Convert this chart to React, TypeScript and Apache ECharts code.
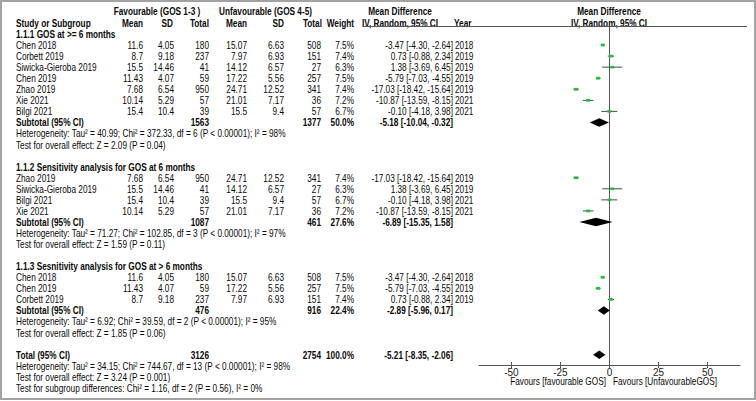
import React, { useEffect, useRef } from "react";
import * as echarts from "echarts";

// ---------- data ----------
const studies = ["Chen 2018", "Corbett 2019", "Siwicka-Gieroba 2019", "Chen 2019", "Zhao 2019", "Xie 2021", "Bilgi 2021"];
const favMean = [11.6, 8.7, 15.5, 11.43, 7.68, 10.14, 15.4];
const favSD = [4.05, 9.18, 14.46, 4.07, 6.54, 5.29, 10.4];
const favN = [180, 237, 41, 59, 950, 57, 39];
const unfMean = [15.07, 7.97, 14.12, 17.22, 24.71, 21.01, 15.5];
const unfSD = [6.63, 6.93, 6.57, 5.56, 12.52, 7.17, 9.4];
const unfN = [508, 151, 27, 257, 341, 36, 57];
const md = [-3.47, 0.73, 1.38, -5.79, -17.03, -10.87, -0.1];
const mdLo = [-4.3, -0.88, -3.69, -7.03, -18.42, -13.59, -4.18];
const mdHi = [-2.64, 2.34, 6.45, -4.55, -15.64, -8.15, 3.98];
const years = [2018, 2019, 2019, 2019, 2019, 2021, 2021];

const groupTitles = [
  "1.1.1 GOS at >= 6 months",
  "1.1.2 Sensitivity analysis for GOS at 6 months",
  "1.1.3 Sesnitivity analysis for GOS at > 6 months",
];
const groupMembers = [[0, 1, 2, 3, 4, 5, 6], [4, 2, 6, 5], [0, 3, 1]];
const groupWeights = [[7.5, 7.4, 6.3, 7.5, 7.4, 7.2, 6.7], [7.4, 6.3, 6.7, 7.2], [7.5, 7.5, 7.4]];
const subFavN = [1563, 1087, 476];
const subUnfN = [1377, 461, 916];
const subWeight = [50.0, 27.6, 22.4];
const subMD = [-5.18, -6.89, -2.89];
const subLo = [-10.04, -15.35, -5.96];
const subHi = [-0.32, 1.58, 0.17];
const subTau2 = [40.99, 71.27, 6.92];
const subChi2 = [372.33, 102.85, 39.59];
const subDf = [6, 3, 2];
const subI2 = [98, 97, 95];
const subZ = [2.09, 1.59, 1.85];
const subP = ["0.04", "0.11", "0.06"];

const totalFavN = 3126;
const totalUnfN = 2754;
const totalWeight = 100.0;
const totalMD = -5.21;
const totalLo = -8.35;
const totalHi = -2.06;
const totalTau2 = 34.15;
const totalChi2 = 744.67;
const totalDf = 13;
const totalI2 = 98;
const totalZ = 3.24;
const totalP = "0.001";
const subgroupChi2 = 1.16;
const subgroupDf = 2;
const subgroupP = "0.56";
const subgroupI2 = 0;

const axisTicks = [-50, -25, 0, 25, 50];
const favLeftLabel = "Favours [favourable GOS]";
const favRightLabel = "Favours [UnfavourableGOS]";

// ---------- layout ----------
const FONT = "Arial, 'Liberation Sans', Helvetica, sans-serif";
const FS = 11;
const SX = 0.75;
const TXT = "#0a0a0a";
const GRID = { left: 479, top: 26, width: 261, height: 339 };
const Y_MIN = -0.72;
const Y_MAX = 29.93;
const X_MIN = -66.5;
const X_MAX = 66.5;
const rowY = (r: number) => GRID.top + ((r - Y_MIN) / (Y_MAX - Y_MIN)) * GRID.height;

const COL = {
  name: 16,
  favMean: 143,
  favSD: 174,
  favN: 209,
  unfMean: 247,
  unfSD: 284,
  unfN: 321,
  weight: 354,
  ci: 453,
  year: 455,
};

function txt(x: number, y: number, s: string, align = "left", bold = false): any {
  return {
    type: "text",
    x,
    y,
    scaleX: SX,
    silent: true,
    style: {
      text: s,
      fill: TXT,
      fontSize: FS,
      fontFamily: FONT,
      fontWeight: bold ? "bold" : "normal",
      align,
      textAlign: align,
      verticalAlign: "middle",
      textVerticalAlign: "middle",
    },
  };
}

const ciText = (m: number, l: number, h: number) => `${m.toFixed(2)} [${l.toFixed(2)}, ${h.toFixed(2)}]`;
const hetText = (t: number, c: number, df: number, i2: number) =>
  `Heterogeneity: Tau\u00B2 = ${t.toFixed(2)}; Chi\u00B2 = ${c.toFixed(2)}, df = ${df} (P < 0.00001); I\u00B2 = ${i2}%`;
const testText = (z: number, p: string) => `Test for overall effect: Z = ${z.toFixed(2)} (P = ${p})`;

function buildAll() {
  const g: any[] = [];
  const forest: any[] = [];

  // frame
  g.push({
    type: "rect",
    silent: true,
    shape: { x: 1, y: 1, width: 754, height: 398 },
    style: { fill: "none", stroke: "#a3a3a3", lineWidth: 2 },
  });
  // header
  const h1 = 10.7;
  const h2 = 22.7;
  g.push(txt(157, h1, "Favourable (GOS 1-3 )", "center", true));
  g.push(txt(265.5, h1, "Unfavourable (GOS 4-5)", "center", true));
  g.push(txt(400, h1, "Mean Difference", "center", true));
  g.push(txt(609, h1, "Mean Difference", "center", true));
  g.push(txt(COL.name, h2, "Study or Subgroup", "left", true));
  g.push(txt(COL.favMean, h2, "Mean", "right", true));
  g.push(txt(COL.favSD - 1, h2, "SD", "right", true));
  g.push(txt(COL.favN, h2, "Total", "right", true));
  g.push(txt(COL.unfMean, h2, "Mean", "right", true));
  g.push(txt(COL.unfSD, h2, "SD", "right", true));
  g.push(txt(COL.unfN + 1, h2, "Total", "right", true));
  g.push(txt(COL.weight, h2, "Weight", "right", true));
  g.push(txt(400, h2, "IV, Random, 95% CI", "center", true));
  g.push(txt(COL.year - 1, h2, "Year", "left", true));
  g.push(txt(609, h2, "IV, Random, 95% CI", "center", true));
  g.push({
    type: "line",
    silent: true,
    shape: { x1: 364, y1: 26.5, x2: 747, y2: 26.5 },
    style: { stroke: "#555", lineWidth: 1 },
  });

  let r = 0;
  groupMembers.forEach((members, gi) => {
    g.push(txt(COL.name, rowY(r), groupTitles[gi], "left", true));
    r++;
    members.forEach((i, k) => {
      const y = rowY(r);
      g.push(txt(COL.name, y, studies[i]));
      g.push(txt(COL.favMean, y, String(favMean[i]), "right"));
      g.push(txt(COL.favSD, y, String(favSD[i]), "right"));
      g.push(txt(COL.favN, y, String(favN[i]), "right"));
      g.push(txt(COL.unfMean, y, String(unfMean[i]), "right"));
      g.push(txt(COL.unfSD, y, String(unfSD[i]), "right"));
      g.push(txt(COL.unfN, y, String(unfN[i]), "right"));
      g.push(txt(COL.weight, y, groupWeights[gi][k].toFixed(1) + "%", "right"));
      g.push(txt(COL.ci, y, ciText(md[i], mdLo[i], mdHi[i]), "right"));
      g.push(txt(COL.year, y, String(years[i])));
      forest.push([md[i], mdLo[i], mdHi[i], r, 0, groupWeights[gi][k]]);
      r++;
    });
    const ys = rowY(r);
    g.push(txt(COL.name, ys, "Subtotal (95% CI)", "left", true));
    g.push(txt(COL.favN, ys, String(subFavN[gi]), "right", true));
    g.push(txt(COL.unfN, ys, String(subUnfN[gi]), "right", true));
    g.push(txt(COL.weight, ys, subWeight[gi].toFixed(1) + "%", "right", true));
    g.push(txt(COL.ci, ys, ciText(subMD[gi], subLo[gi], subHi[gi]), "right", true));
    forest.push([subMD[gi], subLo[gi], subHi[gi], r, 1, subWeight[gi]]);
    r++;
    g.push(txt(COL.name, rowY(r), hetText(subTau2[gi], subChi2[gi], subDf[gi], subI2[gi])));
    r++;
    g.push(txt(COL.name, rowY(r), testText(subZ[gi], subP[gi])));
    r++;
    r++;
  });
  const yt = rowY(r);
  g.push(txt(COL.name, yt, "Total (95% CI)", "left", true));
  g.push(txt(COL.favN, yt, String(totalFavN), "right", true));
  g.push(txt(COL.unfN, yt, String(totalUnfN), "right", true));
  g.push(txt(COL.weight, yt, totalWeight.toFixed(1) + "%", "right", true));
  g.push(txt(COL.ci, yt, ciText(totalMD, totalLo, totalHi), "right", true));
  forest.push([totalMD, totalLo, totalHi, r, 1, totalWeight]);
  r++;
  g.push(txt(COL.name, rowY(r), hetText(totalTau2, totalChi2, totalDf, totalI2)));
  r++;
  g.push(txt(COL.name, rowY(r), testText(totalZ, totalP)));
  r++;
  g.push(
    txt(
      COL.name,
      rowY(r),
      `Test for subgroup differences: Chi\u00B2 = ${subgroupChi2.toFixed(2)}, df = ${subgroupDf} (P = ${subgroupP}), I\u00B2 = ${subgroupI2}%`
    )
  );

  // favours labels
  g.push(txt(606, 381.5, favLeftLabel, "right"));
  g.push(txt(613, 381.5, favRightLabel, "left"));

  return { g, forest };
}

export default function App() {
  const ref = useRef<HTMLDivElement>(null);
  useEffect(() => {
    document.body.style.margin = "0";
    if (!ref.current) return;
    const chart = echarts.init(ref.current, null, { renderer: "svg" });
    const { g, forest } = buildAll();
    const axisColor = "#555";
    chart.setOption({
      animation: false,
      backgroundColor: "#ffffff",
      grid: { left: GRID.left, top: GRID.top, width: GRID.width, height: GRID.height, containLabel: false },
      xAxis: [
        {
          type: "value",
          min: X_MIN,
          max: X_MAX,
          position: "bottom",
          axisLine: { show: true, onZero: false, lineStyle: { color: axisColor, width: 1 } },
          axisTick: { show: true, length: 3, customValues: axisTicks, lineStyle: { color: axisColor } },
          axisLabel: {
            show: true,
            customValues: axisTicks,
            fontSize: 10,
            fontFamily: FONT,
            color: "#222",
            margin: 2,
          },
          splitLine: { show: false },
        },
        {
          type: "value",
          min: X_MIN,
          max: X_MAX,
          position: "top",
          offset: -GRID.height,
          axisLine: { show: false, onZero: false },
          axisTick: { show: true, length: 3, customValues: axisTicks, lineStyle: { color: axisColor } },
          axisLabel: { show: false },
          splitLine: { show: false },
        },
      ],
      yAxis: {
        type: "value",
        inverse: true,
        min: Y_MIN,
        max: Y_MAX,
        axisLine: { show: true, onZero: true, onZeroAxisIndex: 0, lineStyle: { color: axisColor, width: 1 } },
        axisTick: { show: false },
        axisLabel: { show: false },
        splitLine: { show: false },
      },
      series: [
        {
          type: "custom",
          xAxisIndex: 0,
          yAxisIndex: 0,
          encode: { x: [0, 1, 2], y: 3 },
          data: forest,
          clip: false,
          renderItem: (params: any, api: any) => {
            const est = api.value(0);
            const lo = api.value(1);
            const hi = api.value(2);
            const row = api.value(3);
            const kind = api.value(4);
            const w = api.value(5);
            const [xe, y] = api.coord([est, row]);
            const [xl] = api.coord([lo, row]);
            const [xh] = api.coord([hi, row]);
            if (kind === 1) {
              const h = 4.2;
              return {
                type: "polygon",
                shape: { points: [[xl, y], [xe, y - h], [xh, y], [xe, y + h]] },
                style: { fill: "#000" },
              };
            }
            const s = Math.sqrt(w) * 1.45;
            const sh = s * 0.7;
            return {
              type: "group",
              children: [
                {
                  type: "line",
                  shape: { x1: xl, y1: y, x2: xh, y2: y },
                  style: { stroke: "#4a4a4a", lineWidth: 1 },
                },
                {
                  type: "rect",
                  shape: { x: xe - s / 2, y: y - sh / 2, width: s, height: sh },
                  style: { fill: "#1fbf3a" },
                },
              ],
            };
          },
        },
      ],
      graphic: { elements: g },
    });
    return () => chart.dispose();
  }, []);
  return <div ref={ref} style={{ width: 756, height: 401 }} />;
}
